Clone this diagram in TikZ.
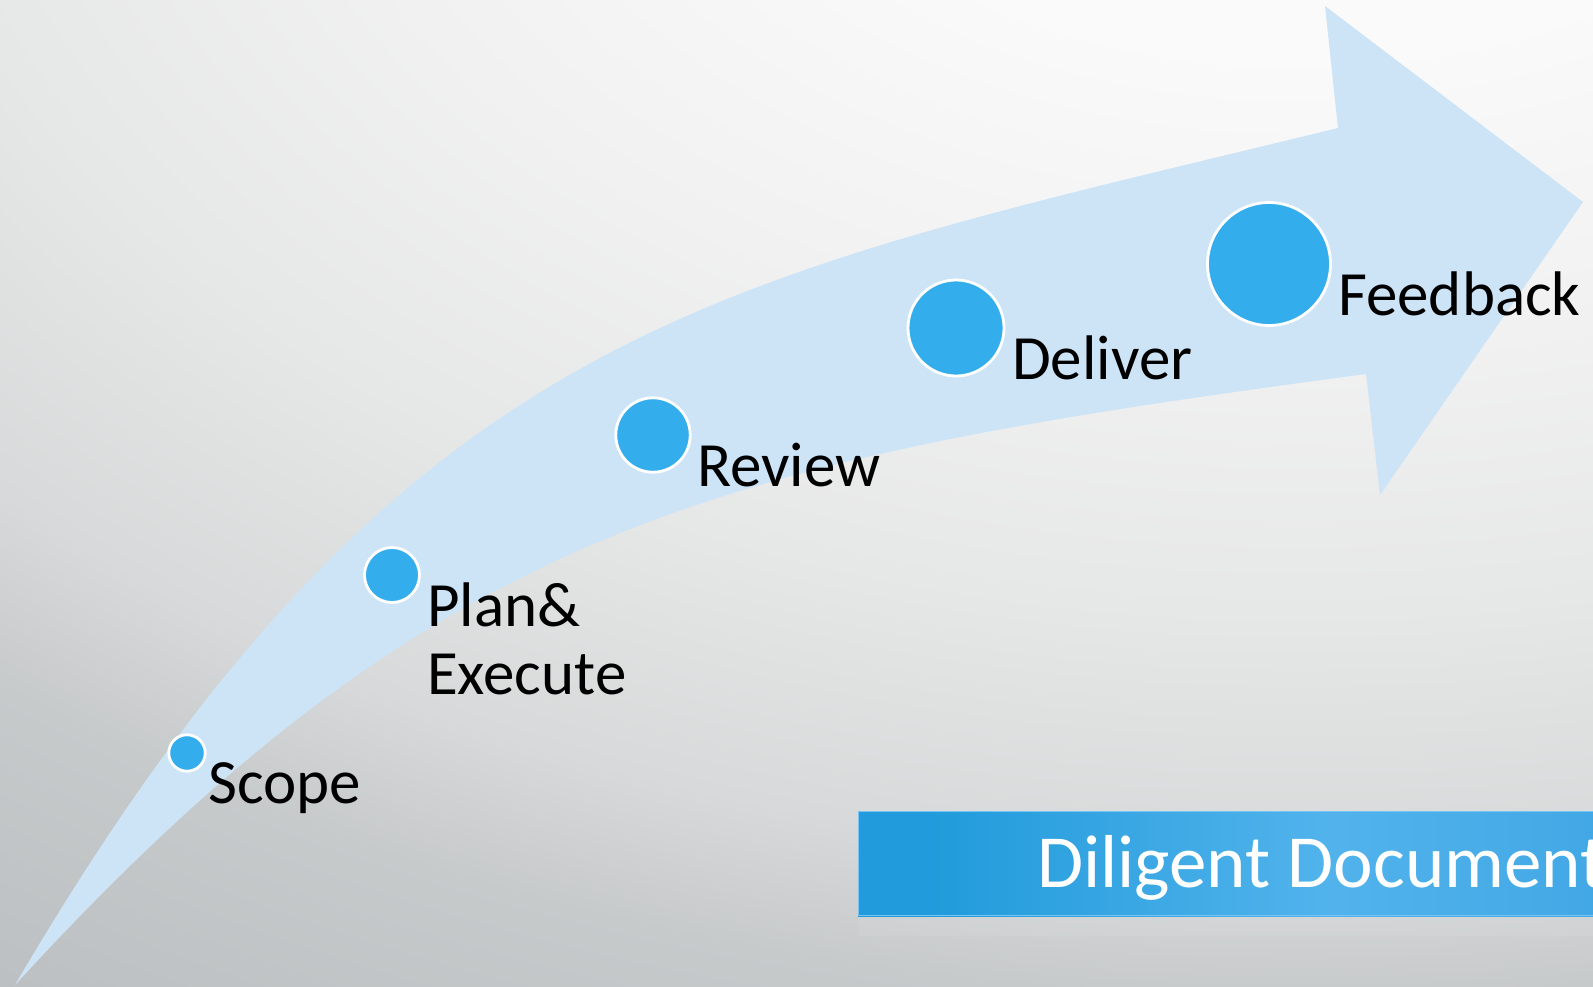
\documentclass[tikz,border=0pt]{standalone}
\usepackage{fontspec}
\setmainfont{Carlito}
\definecolor{bgA}{RGB}{252,252,252}
\definecolor{bgB}{RGB}{250,250,250}
\definecolor{bgC}{RGB}{241,241,241}
\definecolor{bgD}{RGB}{230,231,231}
\definecolor{bgE}{RGB}{223,225,225}
\definecolor{bgF}{RGB}{215,217,218}
\definecolor{bgG}{RGB}{199,202,203}
\definecolor{bgH}{RGB}{188,192,194}
\definecolor{bgI}{RGB}{185,189,191}
\definecolor{arrowblue}{RGB}{205,228,247}
\definecolor{dotblue}{RGB}{51,173,235}
\definecolor{bnA}{RGB}{33,155,219}
\definecolor{bnB}{RGB}{82,179,236}
\definecolor{bnC}{RGB}{66,168,229}
\definecolor{bnEdge}{RGB}{120,196,242}
\pgfdeclareradialshading{bgglow}{\pgfpoint{0bp}{0bp}}{color(0bp)=(bgA); color(5.2bp)=(bgB); color(9.6bp)=(bgC); color(13.5bp)=(bgD); color(15.2bp)=(bgE); color(17.1bp)=(bgF); color(19.2bp)=(bgG); color(22.7bp)=(bgH); color(25bp)=(bgI); color(50bp)=(bgI)}
\pgfdeclarehorizontalshading{bannershade}{100bp}{color(0bp)=(bnA); color(25bp)=(bnA); color(30bp)=(bnA); color(57bp)=(bnB); color(75bp)=(bnC); color(100bp)=(bnC)}
\tikzset{
  dot/.style={circle, fill=dotblue, draw=white, line width=2.8pt, inner sep=0pt},
  lbl/.style={anchor=base west, inner sep=0pt, text=black, font=\fontsize{63}{68}\selectfont},
  ttl/.style={anchor=base west, inner sep=0pt, text=white, font=\fontsize{75}{80}\selectfont}
}
\begin{document}
\begin{tikzpicture}[x=1pt,y=-1pt]
\useasboundingbox (0,0) rectangle (1593,987);
\begin{scope}
\clip (0,0) rectangle (1593,987);
% background
\shade[shading=bgglow] (1300,-300) ellipse [x radius=2600, y radius=1690];
% curved arrow
\fill[arrowblue] (15,985) .. controls (405,320) and (712,281) .. (1338,128)
  -- (1325,6) -- (1583,202) -- (1380,495) -- (1366,374)
  .. controls (722,460) and (440,521) .. (15,985) -- cycle;
% banner
\fill[white, opacity=0.07] (858,916) rectangle (1593,936);
\shade[shading=bannershade] (858,811) rectangle (1593,916);
\draw[bnEdge, line width=1.2pt] (1593,811.6) -- (858.6,811.6) -- (858.6,915.4) -- (1593,915.4);
\node[ttl] (title) at (1037,887) {Diligent Document};
\end{scope}
% dots
\node[dot, minimum size=36.4pt] (scope) at (187,753) {};
\node[dot, minimum size=55pt] (plan) at (392,575) {};
\node[dot, minimum size=74.4pt] (review) at (653,435) {};
\node[dot, minimum size=96pt] (deliver) at (956,328) {};
\node[dot, minimum size=123pt] (feedback) at (1269,264) {};
% labels
\node[lbl] (scopetxt) at (208,803) {Scope};
\node[lbl] (plantxt) at (427,626) {Plan\&};
\node[lbl] (exectxt) at (427,694) {Execute};
\node[lbl] (reviewtxt) at (697,486) {Review};
\node[lbl] (delivertxt) at (1012,379) {Deliver};
\node[lbl] (feedbacktxt) at (1338,315) {Feedback};
\end{tikzpicture}
\end{document}
